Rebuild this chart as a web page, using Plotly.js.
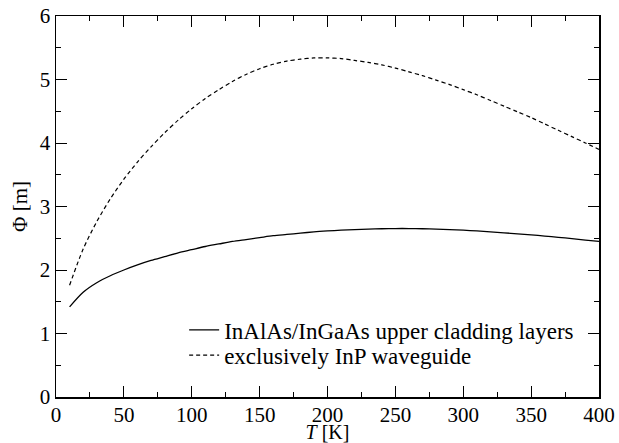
<!DOCTYPE html>
<html>
<head>
<meta charset="utf-8">
<script src="https://cdn.plot.ly/plotly-3.0.1.min.js"></script>
<style>
html,body{margin:0;padding:0;background:#fff;}
#chart{width:619px;height:443px;}
</style>
</head>
<body>
<div id="chart"></div>
<script>
// Temperature grid (K) and series values
const temps = [10, 20, 30, 40, 50, 60, 70, 80, 90, 100, 110, 120, 130, 140, 150, 160, 170, 180, 190, 200,
               210, 220, 230, 240, 250, 260, 270, 280, 290, 300, 310, 320, 330, 340, 350, 360, 370, 380, 390, 400];
const phiCladding = [1.42, 1.65, 1.80, 1.91, 2.00, 2.08, 2.15, 2.21, 2.27, 2.32, 2.37, 2.41, 2.45, 2.48, 2.51, 2.54, 2.56, 2.58, 2.60, 2.615,
                     2.627, 2.637, 2.645, 2.65, 2.653, 2.653, 2.65, 2.645, 2.637, 2.627, 2.615, 2.60, 2.585, 2.57, 2.553, 2.535, 2.515, 2.494, 2.472, 2.45];
const phiInP = [1.76, 2.33, 2.76, 3.12, 3.43, 3.70, 3.94, 4.16, 4.36, 4.54, 4.70, 4.84, 4.97, 5.08, 5.17, 5.24, 5.29, 5.32, 5.34, 5.34,
                5.33, 5.30, 5.27, 5.23, 5.18, 5.12, 5.06, 4.99, 4.92, 4.84, 4.76, 4.67, 4.58, 4.49, 4.40, 4.30, 4.20, 4.10, 4.00, 3.90];

const seriesNames = ["InAlAs/InGaAs upper cladding layers", "exclusively InP waveguide"];
const xTitle = "<i>T</i> [K]";
const yTitle = "Φ [m]";

function f(size) { return {family: "Liberation Serif", size: size, color: "#000"}; }

const traces = [
  {x: temps, y: phiCladding, name: seriesNames[0], type: "scatter", mode: "lines", legend: "legend",
   line: {color: "#000", width: 1.3, shape: "spline", smoothing: 0.8}},
  {x: temps, y: phiInP, name: seriesNames[1], type: "scatter", mode: "lines", legend: "legend2",
   line: {color: "#000", width: 1.2, dash: "4px,3px", shape: "spline", smoothing: 0.8}}
];

function axis(extra) {
  return Object.assign({
    showline: true, linecolor: "#000", linewidth: 1.5, mirror: "allticks",
    ticks: "inside", ticklen: 11, tickwidth: 1, tickcolor: "#000",
    showgrid: false, zeroline: false, tickfont: f(21)
  }, extra);
}

const layout = {
  width: 619, height: 443,
  margin: {l: 56, r: 20, t: 16, b: 46},
  paper_bgcolor: "#fff", plot_bgcolor: "#fff",
  font: f(21),
  showlegend: true,
  legend: {x: 0.236, y: 0.176, xanchor: "left", yanchor: "middle", bgcolor: "rgba(0,0,0,0)", font: f(23)},
  legend2: {x: 0.236, y: 0.110, xanchor: "left", yanchor: "middle", bgcolor: "rgba(0,0,0,0)", font: f(23)},
  xaxis: axis({
    range: [0, 400], dtick: 50, tick0: 0, ticklabelstandoff: -2,
    minor: {dtick: 25, ticks: "inside", ticklen: 5, tickwidth: 1, tickcolor: "#000"},
    title: {text: xTitle, font: f(20), standoff: 3}
  }),
  yaxis: axis({
    range: [0, 6], dtick: 1, tick0: 0,
    minor: {dtick: 0.5, ticks: "inside", ticklen: 5, tickwidth: 1, tickcolor: "#000"},
    title: {text: yTitle, font: f(21), standoff: 6}
  })
};

Plotly.newPlot("chart", traces, layout, {staticPlot: true, displayModeBar: false});
</script>
</body>
</html>
